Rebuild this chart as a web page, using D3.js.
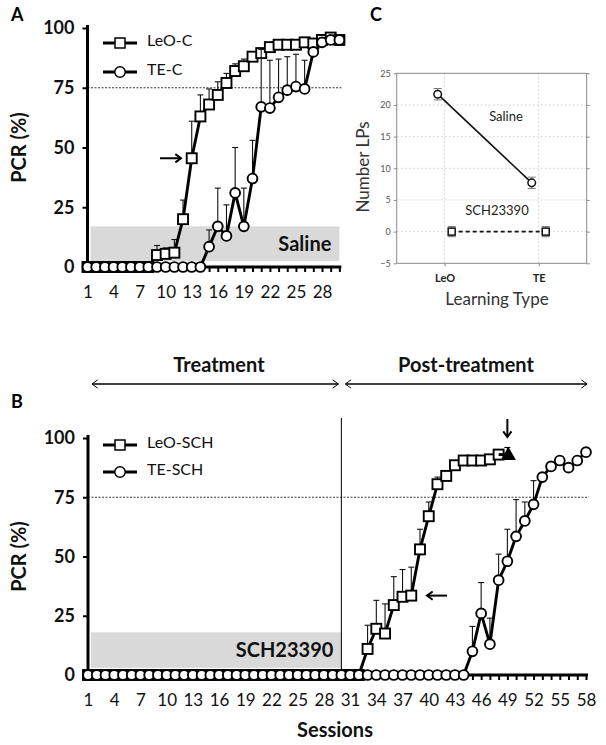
<!DOCTYPE html>
<html>
<head>
<meta charset="utf-8">
<script src="https://cdn.jsdelivr.net/npm/d3@7"></script>
<style>
  body { margin: 0; background: #fff; }
  svg { display: block; font-family: Lato, "Open Sans", sans-serif; }
</style>
</head>
<body>
<svg id="chart" width="606" height="745"></svg>
<script>
// ---------- DATA ----------
// Panel A (sessions 1..30)
const sessionsA = [1,2,3,4,5,6,7,8,9,10,11,12,13,14,15,16,17,18,19,20,21,22,23,24,25,26,27,28,29,30];
const leoC    = [0,0,0,0,0,0,0,0,5,5.5,6,20,45.5,63,68,72,77,82,84,88,89.5,92,93,93,93,94,93.5,95,96,95];
const leoCErr = [0,0,0,0,0,0,0,0,4,2.5,5.5,8,15.5,9,6.5,5.5,4,3,3,2,2,1,1,1,1,1,1,1,1,1];
const teC     = [0,0,0,0,0,0,0,0,0,0,0,0,0,0,8.5,17,13,31,17,37,67,66.5,71,74,75.5,74.5,90,94,95,95];
const teCErr  = [0,0,0,0,0,0,0,0,0,0,0,0,0,0,7,16,13,19,16,16,24,20,16,14,13.5,12,0,0,0,0];
const ticksA  = [1,4,7,10,13,16,19,22,25,28];

// Panel B (sessions 1..58)
const sessionsLeoSCH = [1,2,3,4,5,6,7,8,9,10,11,12,13,14,15,16,17,18,19,20,21,22,23,24,25,26,27,28,29,30,31,32,33,34,35,36,37,38,39,40,41,42,43,44,45,46,47,48];
const leoSCH    = [0,0,0,0,0,0,0,0,0,0,0,0,0,0,0,0,0,0,0,0,0,0,0,0,0,0,0,0,0,0,0,0,11,19.5,17.5,29.5,33,33.5,53,67,80.5,84,88.5,90.5,90.5,90.5,91,93];
const leoSCHErr = [0,0,0,0,0,0,0,0,0,0,0,0,0,0,0,0,0,0,0,0,0,0,0,0,0,0,0,0,0,0,0,0,10,12,12.5,12,11.5,12,8.5,6,3,1,1,1,1,1,1,1];
const sessionsTeSCH = [1,2,3,4,5,6,7,8,9,10,11,12,13,14,15,16,17,18,19,20,21,22,23,24,25,26,27,28,29,30,31,32,33,34,35,36,37,38,39,40,41,42,43,44,45,46,47,48,49,50,51,52,53,54,55,56,57,58];
const teSCH    = [0,0,0,0,0,0,0,0,0,0,0,0,0,0,0,0,0,0,0,0,0,0,0,0,0,0,0,0,0,0,0,0,0,0,0,0,0,0,0,0,0,0,0,0,10,26,13,40,48,58.5,65,72,83.5,88,90.5,87.5,90.5,94];
const teSCHErr = [0,0,0,0,0,0,0,0,0,0,0,0,0,0,0,0,0,0,0,0,0,0,0,0,0,0,0,0,0,0,0,0,0,0,0,0,0,0,0,0,0,0,0,0,10.5,13,11,11,13.5,15.5,8,10,0,0,0,0,0,0];
const triSession = [49];
const triValue   = [93];
const triErr     = [3];
const ticksB = [1,4,7,10,13,16,19,22,25,28,31,34,37,40,43,46,49,52,55,58];
const yTicks = [0,25,50,75,100];

// Panel C
const learnTypes = ["LeO","TE"];
const salineLP    = [21.7, 7.7];
const salineLPErr = [0.9, 0.9];
const schLP       = [0, 0];
const schLPErr    = [0.8, 0.8];
const yTicksC = [-5,0,5,10,15,20,25];

// ---------- DRAW ----------
const svg = d3.select("#chart");
const FONT = 'Lato, "Open Sans", sans-serif';

function drawPCRPanel(opts) {
  const { x, y, xEnd, xTicks, xAllTicks, shadeTop, shadeBottom, shadeEndX, shadeLabel } = opts;
  const g = svg.append("g");

  g.append("rect")
    .attr("x", x.range()[0] + 3).attr("y", y(shadeTop))
    .attr("width", shadeEndX - x.range()[0] - 3)
    .attr("height", y(shadeBottom) - y(shadeTop))
    .attr("fill", "#d9d9d9");
  g.append("text").attr("x", shadeEndX - 8).attr("y", (y(shadeTop) + y(shadeBottom)) / 2 + 7)
    .attr("text-anchor", "end").attr("font-weight", "bold").attr("font-size", 20)
    .attr("fill", "#111").text(shadeLabel);

  g.append("line").attr("x1", x.range()[0]).attr("x2", xEnd + 3)
    .attr("y1", y(75)).attr("y2", y(75))
    .attr("stroke", "#222").attr("stroke-width", 0.9).attr("stroke-dasharray", "2,1.5");

  const yAx = g.append("g").attr("transform", `translate(${x.range()[0]},0)`)
    .call(d3.axisLeft(y).tickValues(yTicks).tickSize(5).tickPadding(8));
  yAx.select(".domain").attr("stroke-width", 3).attr("d", `M0,${y(0)}V${y(100) - 3}`);
  yAx.selectAll(".tick line").attr("stroke-width", 2);
  yAx.selectAll(".tick text").attr("font-size", 18).attr("font-weight", "bold")
    .attr("font-family", FONT).attr("fill", "#111");

  const xAx = g.append("g").attr("transform", `translate(0,${y(0)})`)
    .call(d3.axisBottom(x).tickValues(xAllTicks).tickSize(5).tickPadding(14)
      .tickFormat(d => xTicks.includes(d) ? d : ""));
  xAx.select(".domain").attr("stroke-width", 3).attr("d", `M${x.range()[0] - 2},0H${xEnd + 2}`);
  xAx.selectAll(".tick line").attr("stroke-width", 2);
  xAx.selectAll(".tick text").attr("font-size", 17).attr("font-family", FONT).attr("fill", "#111");
  return g;
}

function drawSeries(g, x, y, sessions, vals, errs, shape) {
  const eb = g.append("g").attr("stroke", "#111").attr("stroke-width", 1.1);
  sessions.forEach((s, i) => {
    if (errs[i] > 0.5) {
      eb.append("line").attr("x1", x(s)).attr("x2", x(s)).attr("y1", y(vals[i])).attr("y2", y(vals[i] + errs[i]));
      eb.append("line").attr("x1", x(s) - 3).attr("x2", x(s) + 3).attr("y1", y(vals[i] + errs[i])).attr("y2", y(vals[i] + errs[i]));
    }
  });
  const line = d3.line().x((d, i) => x(sessions[i])).y(d => y(d));
  g.append("path").datum(vals).attr("d", line).attr("fill", "none")
    .attr("stroke", "#000").attr("stroke-width", 2.9).attr("stroke-linejoin", "round");
  const mg = g.append("g");
  if (shape === "square") {
    mg.selectAll("rect").data(vals).join("rect")
      .attr("x", (d, i) => x(sessions[i]) - 5).attr("y", d => y(d) - 5)
      .attr("width", 10).attr("height", 10)
      .attr("fill", "#fff").attr("stroke", "#000").attr("stroke-width", 1.9);
  } else {
    mg.selectAll("circle").data(vals).join("circle")
      .attr("cx", (d, i) => x(sessions[i])).attr("cy", d => y(d)).attr("r", 4.9)
      .attr("fill", "#fff").attr("stroke", "#000").attr("stroke-width", 1.9);
  }
}

function legend(g, x0, yPos, shape, label) {
  g.append("line").attr("x1", x0).attr("x2", x0 + 34).attr("y1", yPos).attr("y2", yPos)
    .attr("stroke", "#000").attr("stroke-width", 2.8);
  if (shape === "square") {
    g.append("rect").attr("x", x0 + 12).attr("y", yPos - 5).attr("width", 10).attr("height", 10)
      .attr("fill", "#fff").attr("stroke", "#000").attr("stroke-width", 1.5);
  } else {
    g.append("circle").attr("cx", x0 + 17).attr("cy", yPos).attr("r", 5.2)
      .attr("fill", "#fff").attr("stroke", "#000").attr("stroke-width", 1.5);
  }
  g.append("text").attr("x", x0 + 44).attr("y", yPos + 1).attr("dy", "0.1em")
    .attr("font-size", 16).attr("fill", "#111").attr("font-family", FONT).text(label);
}

function arrow(g, x1, y1, x2, y2, head, sw) {
  g.append("line").attr("x1", x1).attr("y1", y1).attr("x2", x2).attr("y2", y2)
    .attr("stroke", "#000").attr("stroke-width", sw);
  const ang = Math.atan2(y2 - y1, x2 - x1);
  const a1 = ang + Math.PI * 0.8, a2 = ang - Math.PI * 0.8;
  g.append("path")
    .attr("d", `M${x2 + head * Math.cos(a1)},${y2 + head * Math.sin(a1)}L${x2},${y2}L${x2 + head * Math.cos(a2)},${y2 + head * Math.sin(a2)}`)
    .attr("fill", "none").attr("stroke", "#000").attr("stroke-width", sw);
}

// ----- Panel A -----
const xA = d3.scaleLinear().domain([1, 28]).range([87.5, 322]);
const yA = d3.scaleLinear().domain([0, 100]).range([267, 28]);
const gA = drawPCRPanel({ x: xA, y: yA, xEnd: xA(30), xTicks: ticksA, xAllTicks: sessionsA,
  shadeTop: 17, shadeBottom: 2.5, shadeEndX: xA(30), shadeLabel: "Saline" });
drawSeries(gA, xA, yA, sessionsA, leoC, leoCErr, "square");
drawSeries(gA, xA, yA, sessionsA, teC, teCErr, "circle");
legend(gA, 103, 43, "square", "LeO-C");
legend(gA, 103, 72, "circle", "TE-C");
arrow(gA, 160, yA(45.5), 181, yA(45.5), 7, 2);
gA.append("text").attr("transform", `translate(26,${yA(50)}) rotate(-90)`)
  .attr("text-anchor", "middle").attr("font-weight", "bold").attr("font-size", 20).attr("fill", "#111").text("PCR (%)");

// ----- Panel B -----
const xB = d3.scaleLinear().domain([1, 58]).range([88, 586]);
const yB = d3.scaleLinear().domain([0, 100]).range([675, 438]);
const gB = drawPCRPanel({ x: xB, y: yB, xEnd: xB(58), xTicks: ticksB, xAllTicks: sessionsTeSCH,
  shadeTop: 18, shadeBottom: 3, shadeEndX: xB(30), shadeLabel: "SCH23390" });
gB.append("line").attr("x1", xB(30)).attr("x2", xB(30)).attr("y1", 418).attr("y2", yB(0))
  .attr("stroke", "#000").attr("stroke-width", 1);
drawSeries(gB, xB, yB, sessionsLeoSCH, leoSCH, leoSCHErr, "square");
drawSeries(gB, xB, yB, sessionsTeSCH, teSCH, teSCHErr, "circle");
triSession.forEach((s, i) => {
  const cx = xB(s), cy = yB(triValue[i]);
  gB.append("line").attr("x1", cx).attr("x2", cx).attr("y1", cy).attr("y2", yB(triValue[i] + triErr[i]))
    .attr("stroke", "#000").attr("stroke-width", 1.1);
  gB.append("line").attr("x1", cx - 3).attr("x2", cx + 3).attr("y1", yB(triValue[i] + triErr[i])).attr("y2", yB(triValue[i] + triErr[i]))
    .attr("stroke", "#000").attr("stroke-width", 1.1);
  gB.append("line").attr("x1", xB(48)).attr("x2", cx).attr("y1", yB(leoSCH[leoSCH.length - 1])).attr("y2", cy)
    .attr("stroke", "#000").attr("stroke-width", 2.9);
  gB.append("path").attr("d", d3.symbol(d3.symbolTriangle, 100)()).attr("transform", `translate(${cx + 1},${cy + 1})`)
    .attr("fill", "#000");
  arrow(gB, cx, 419, cx, 437, 7, 2);
});
legend(gB, 103, 445, "square", "LeO-SCH");
legend(gB, 103, 472, "circle", "TE-SCH");
arrow(gB, 447, yB(33.5), 427, yB(33.5), 7, 2);
gB.append("text").attr("transform", `translate(26,${yB(50)}) rotate(-90)`)
  .attr("text-anchor", "middle").attr("font-weight", "bold").attr("font-size", 20).attr("fill", "#111").text("PCR (%)");
gB.append("text").attr("x", 335).attr("y", 737).attr("text-anchor", "middle")
  .attr("font-weight", "bold").attr("font-size", 20).attr("fill", "#111").text("Sessions");

// header arrows
const gH = svg.append("g");
arrow(gH, xB(30) - 3, 384, 92, 384, 7, 1);
arrow(gH, 92, 384, xB(30) - 3, 384, 7, 1);
arrow(gH, 587, 384, xB(30) + 4, 384, 7, 1);
arrow(gH, xB(30) + 4, 384, 587, 384, 7, 1);
gH.append("text").attr("x", 219).attr("y", 372).attr("text-anchor", "middle")
  .attr("font-weight", "bold").attr("font-size", 20).attr("fill", "#111").text("Treatment");
gH.append("text").attr("x", 466).attr("y", 372).attr("text-anchor", "middle")
  .attr("font-weight", "bold").attr("font-size", 20).attr("fill", "#111").text("Post-treatment");

// panel letters
svg.append("text").attr("x", 11).attr("y", 21).attr("font-weight", "bold").attr("font-size", 18).text("A");
svg.append("text").attr("x", 11).attr("y", 408).attr("font-weight", "bold").attr("font-size", 18).text("B");
svg.append("text").attr("x", 370).attr("y", 21).attr("font-weight", "bold").attr("font-size", 18).text("C");

// ----- Panel C -----
const xC = d3.scalePoint().domain(learnTypes).range([396.7, 586.7]).padding(0.51);
const yC = d3.scaleLinear().domain([-5, 25]).range([263.3, 73.3]);
const gC = svg.append("g");
gC.selectAll(".hg").data(yTicksC.filter(d => d > -5 && d < 25)).join("line")
  .attr("x1", 396.7).attr("x2", 586.7).attr("y1", d => yC(d)).attr("y2", d => yC(d))
  .attr("stroke", "#cfcfcf").attr("stroke-width", 0.8).attr("stroke-dasharray", "2,2");
gC.selectAll(".vg").data(learnTypes).join("line")
  .attr("x1", d => xC(d)).attr("x2", d => xC(d)).attr("y1", 73.3).attr("y2", 263.3)
  .attr("stroke", "#cfcfcf").attr("stroke-width", 0.8).attr("stroke-dasharray", "2,2");
gC.append("rect").attr("x", 396.7).attr("y", 73.3).attr("width", 190).attr("height", 190)
  .attr("fill", "none").attr("stroke", "#8a8a8a").attr("stroke-width", 1);
const yAxC = gC.append("g").attr("transform", "translate(396.7,0)")
  .call(d3.axisLeft(yC).tickValues(yTicksC).tickSize(3).tickPadding(3));
yAxC.select(".domain").remove();
yAxC.selectAll(".tick line").attr("stroke", "#8a8a8a");
yAxC.selectAll(".tick text").attr("font-size", 9).attr("fill", "#555").attr("font-family", FONT);
const yAxC2 = gC.append("g").attr("transform", "translate(586.7,0)")
  .call(d3.axisRight(yC).tickValues(yTicksC).tickSize(3).tickFormat(""));
yAxC2.select(".domain").remove();
yAxC2.selectAll(".tick line").attr("stroke", "#8a8a8a");
const xAxC = gC.append("g").attr("transform", "translate(0,263.3)")
  .call(d3.axisBottom(xC).tickSize(3).tickPadding(8));
xAxC.select(".domain").remove();
xAxC.selectAll(".tick line").attr("stroke", "#8a8a8a");
xAxC.selectAll(".tick text").attr("font-size", 11).attr("font-weight", "bold").attr("fill", "#222").attr("font-family", FONT);

function cSeries(vals, errs, offset, shape, dash) {
  const px = (d, i) => xC(learnTypes[i]) + offset;
  gC.append("path").datum(vals)
    .attr("d", d3.line().x(px).y(d => yC(d)))
    .attr("fill", "none").attr("stroke", "#111").attr("stroke-width", 1.6)
    .attr("stroke-dasharray", dash);
  vals.forEach((v, i) => {
    const cx = px(v, i);
    const eg = gC.append("g").attr("stroke", "#777").attr("stroke-width", 1);
    eg.append("line").attr("x1", cx).attr("x2", cx).attr("y1", yC(v - errs[i])).attr("y2", yC(v + errs[i]));
    eg.append("line").attr("x1", cx - 4).attr("x2", cx + 4).attr("y1", yC(v - errs[i])).attr("y2", yC(v - errs[i]));
    eg.append("line").attr("x1", cx - 4).attr("x2", cx + 4).attr("y1", yC(v + errs[i])).attr("y2", yC(v + errs[i]));
    if (shape === "circle") {
      gC.append("circle").attr("cx", cx).attr("cy", yC(v)).attr("r", 3.8)
        .attr("fill", "#fff").attr("stroke", "#111").attr("stroke-width", 1.5);
    } else {
      gC.append("rect").attr("x", cx - 3.5).attr("y", yC(v) - 3.5).attr("width", 7).attr("height", 7)
        .attr("fill", "#fff").attr("stroke", "#111").attr("stroke-width", 1.5);
    }
  });
}
cSeries(salineLP, salineLPErr, -7, "circle", null);
cSeries(schLP, schLPErr, 7, "square", "4,3");
gC.append("text").attr("x", 506).attr("y", 121).attr("text-anchor", "middle")
  .attr("font-size", 13).attr("fill", "#222").text("Saline");
gC.append("text").attr("x", 497).attr("y", 215).attr("text-anchor", "middle")
  .attr("font-size", 13).attr("fill", "#222").text("SCH23390");
gC.append("text").attr("x", 497).attr("y", 305).attr("text-anchor", "middle")
  .attr("font-size", 17).attr("fill", "#333").text("Learning Type");
gC.append("text").attr("transform", "translate(369,167) rotate(-90)").attr("text-anchor", "middle")
  .attr("font-size", 17).attr("fill", "#333").text("Number LPs");
</script>
</body>
</html>
